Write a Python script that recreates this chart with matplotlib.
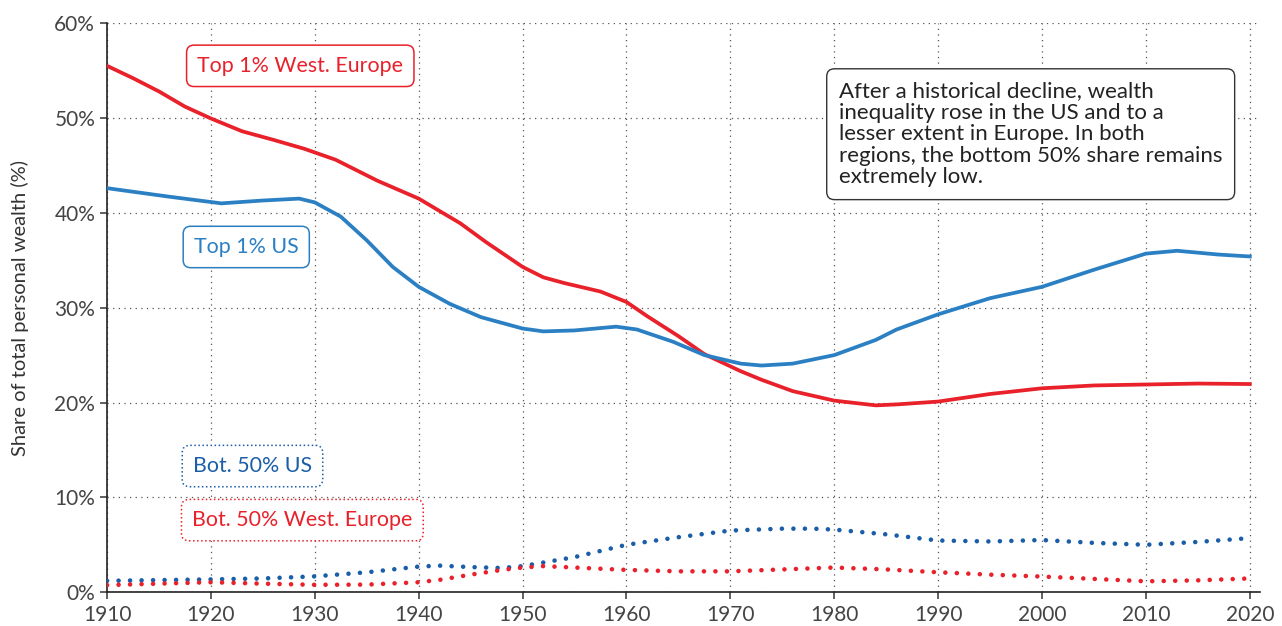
import numpy as np
import matplotlib.pyplot as plt
from matplotlib.ticker import FuncFormatter, MultipleLocator

plt.rcParams['font.family'] = ['Lato', 'DejaVu Sans']

# top 1% wealth shares (%)
top_eu_years = [1910, 1912.5, 1915, 1917.5, 1920, 1923, 1926, 1929, 1932, 1936, 1940, 1944,
                1946.5, 1950, 1952, 1954, 1957.5, 1960, 1962, 1965, 1967.5, 1971, 1973,
                1976, 1980, 1984, 1986, 1990, 1995, 2000, 2005, 2010, 2015, 2020]
top_eu = [55.5, 54.2, 52.8, 51.2, 49.95, 48.6, 47.7, 46.75, 45.6, 43.4, 41.5, 38.9,
          36.9, 34.3, 33.2, 32.6, 31.7, 30.6, 29.1, 27.0, 25.1, 23.3, 22.4,
          21.2, 20.2, 19.7, 19.8, 20.1, 20.9, 21.5, 21.8, 21.9, 22.0, 21.95]

top_us_years = [1910, 1916, 1921, 1925, 1928.5, 1930, 1932.5, 1935, 1937.5, 1940, 1943,
                1946, 1950, 1952, 1955, 1959, 1961, 1964.5, 1967.5, 1971, 1973, 1976,
                1980, 1982, 1984, 1986, 1990, 1995, 2000, 2005, 2010, 2013, 2017, 2020]
top_us = [42.6, 41.7, 41.0, 41.3, 41.5, 41.1, 39.6, 37.1, 34.3, 32.2, 30.4,
          29.0, 27.8, 27.5, 27.6, 28.0, 27.7, 26.4, 25.0, 24.1, 23.9, 24.1,
          25.0, 25.8, 26.6, 27.7, 29.3, 31.0, 32.2, 34.0, 35.7, 36.0, 35.6, 35.4]

# bottom 50% wealth shares (%)
bot_us_years = [1910, 1920, 1925, 1930, 1935, 1940, 1942, 1945, 1948, 1950, 1955, 1960,
                1965, 1970, 1975, 1978, 1980, 1985, 1990, 1995, 2000, 2005, 2010,
                2015, 2020]
bot_us = [1.2, 1.35, 1.45, 1.67, 2.1, 2.7, 2.8, 2.65, 2.55, 2.75, 3.7, 5.0,
          5.8, 6.5, 6.7, 6.7, 6.6, 6.1, 5.45, 5.35, 5.5, 5.2, 5.0, 5.3, 5.7]

bot_eu_years = [1910, 1915, 1920, 1925, 1930, 1935, 1940, 1942, 1945, 1948, 1950, 1952,
                1955, 1960, 1965, 1970, 1975, 1980, 1985, 1990, 1995, 2000, 2005,
                2010, 2015, 2020]
bot_eu = [0.75, 0.9, 1.05, 0.9, 0.78, 0.8, 1.05, 1.3, 1.85, 2.35, 2.6, 2.75,
          2.6, 2.35, 2.2, 2.2, 2.4, 2.6, 2.4, 2.1, 1.85, 1.65, 1.4, 1.15, 1.25, 1.45]

red = '#e8212b'
blue = '#2b80c3'
dblue = '#1b5ea8'

fig = plt.figure(figsize=(12.82, 6.26), dpi=100)
ax = fig.add_axes([0.0835, 0.054, 0.8995, 0.909])

dots = (0, (0.01, 2.5))
ax.plot(top_eu_years, top_eu, color=red, lw=2.7, solid_joinstyle='round', zorder=3)
ax.plot(top_us_years, top_us, color=blue, lw=2.7, solid_joinstyle='round', zorder=3)
ax.plot(bot_us_years, bot_us, color=dblue, lw=3.3, ls=dots, dash_capstyle='round', zorder=3)
ax.plot(bot_eu_years, bot_eu, color=red, lw=3.3, ls=dots, dash_capstyle='round', zorder=3)

ax.set_xlim(1910, 2021)
ax.set_ylim(0, 60)
ax.xaxis.set_major_locator(MultipleLocator(10))
ax.yaxis.set_major_locator(MultipleLocator(10))
ax.yaxis.set_major_formatter(FuncFormatter(lambda v, p: f'{v:.0f}%'))
ax.grid(True, ls=(0, (1, 3.5)), color='#555555', lw=0.9)
ax.set_axisbelow(True)
for s in ['top', 'right']:
    ax.spines[s].set_visible(False)
for s in ['left', 'bottom']:
    ax.spines[s].set_color('#222222')
    ax.spines[s].set_linewidth(1.2)
ax.tick_params(labelsize=15, colors='#444444', length=5, width=1.2)
ax.tick_params(axis='x', pad=4)
ax.set_ylabel('Share of total personal wealth (%)', fontsize=14.5, color='#333333', labelpad=18)

def tag(x, y, text, color, style='-'):
    ax.text(x, y, text, color=color, fontsize=15.4, ha='center', va='center', zorder=5,
            bbox=dict(boxstyle='round,pad=0.5,rounding_size=0.35', fc='white',
                      ec=color, lw=1.1, ls=style))

tag(1928.6, 55.5, 'Top 1% West. Europe', red)
tag(1923.4, 36.4, 'Top 1% US', blue)
tag(1924.0, 13.3, 'Bot. 50% US', dblue, ':')
tag(1928.8, 7.6, 'Bot. 50% West. Europe', red, ':')

ax.text(1980.45, 53.9,
        'After a historical decline, wealth\ninequality rose in the US and to a\n'
        'lesser extent in Europe. In both\nregions, the bottom 50% share remains\n'
        'extremely low.',
        fontsize=16, color='#222222', ha='left', va='top', linespacing=1.1, zorder=5,
        bbox=dict(boxstyle='round,pad=0.55,rounding_size=0.35', fc='white', ec='#333333', lw=1.0))

fig.savefig('out.png', dpi=100)
